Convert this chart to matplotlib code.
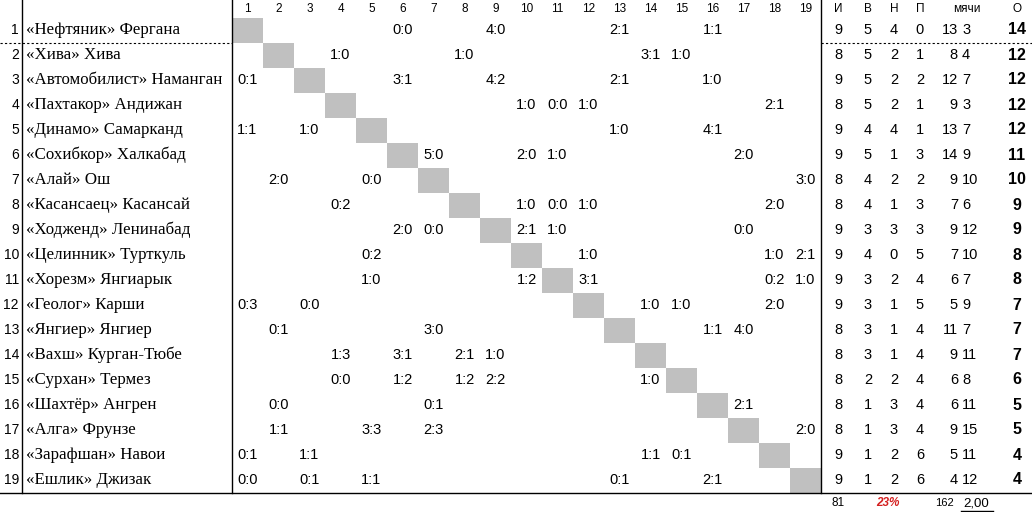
import matplotlib
matplotlib.use("Agg")
import matplotlib.pyplot as plt
from matplotlib.patches import Rectangle

teams = ["«Нефтяник» Фергана", "«Хива» Хива", "«Автомобилист» Наманган",
         "«Пахтакор» Андижан", "«Динамо» Самарканд", "«Сохибкор» Халкабад",
         "«Алай» Ош", "«Касансаец» Касансай", "«Ходженд» Ленинабад",
         "«Целинник» Турткуль", "«Хорезм» Янгиарык", "«Геолог» Карши",
         "«Янгиер» Янгиер", "«Вахш» Курган-Тюбе", "«Сурхан» Термез",
         "«Шахтёр» Ангрен", "«Алга» Фрунзе", "«Зарафшан» Навои", "«Ешлик» Джизак"]

# row -> {column: score}
results = [
    {6: "0:0", 9: "4:0", 13: "2:1", 16: "1:1"},
    {4: "1:0", 8: "1:0", 14: "3:1", 15: "1:0"},
    {1: "0:1", 6: "3:1", 9: "4:2", 13: "2:1", 16: "1:0"},
    {10: "1:0", 11: "0:0", 12: "1:0", 18: "2:1"},
    {1: "1:1", 3: "1:0", 13: "1:0", 16: "4:1"},
    {7: "5:0", 10: "2:0", 11: "1:0", 17: "2:0"},
    {2: "2:0", 5: "0:0", 19: "3:0"},
    {4: "0:2", 10: "1:0", 11: "0:0", 12: "1:0", 18: "2:0"},
    {6: "2:0", 7: "0:0", 10: "2:1", 11: "1:0", 17: "0:0"},
    {5: "0:2", 12: "1:0", 18: "1:0", 19: "2:1"},
    {5: "1:0", 10: "1:2", 12: "3:1", 18: "0:2", 19: "1:0"},
    {1: "0:3", 3: "0:0", 14: "1:0", 15: "1:0", 18: "2:0"},
    {2: "0:1", 7: "3:0", 16: "1:1", 17: "4:0"},
    {4: "1:3", 6: "3:1", 8: "2:1", 9: "1:0"},
    {4: "0:0", 6: "1:2", 8: "1:2", 9: "2:2", 14: "1:0"},
    {2: "0:0", 7: "0:1", 17: "2:1"},
    {2: "1:1", 5: "3:3", 7: "2:3", 19: "2:0"},
    {1: "0:1", 3: "1:1", 14: "1:1", 15: "0:1"},
    {1: "0:0", 3: "0:1", 5: "1:1", 13: "0:1", 16: "2:1"},
]

played = [9, 8, 9, 8, 9, 9, 8, 8, 9, 9, 9, 9, 8, 8, 8, 8, 8, 9, 9]
wins = [5, 5, 5, 5, 4, 5, 4, 4, 3, 4, 3, 3, 3, 3, 2, 1, 1, 1, 1]
draws = [4, 2, 2, 2, 4, 1, 2, 1, 3, 0, 2, 1, 1, 1, 2, 3, 3, 2, 2]
losses = [0, 1, 2, 1, 1, 3, 2, 3, 3, 5, 4, 5, 4, 4, 4, 4, 4, 6, 6]
goals_for = [13, 8, 12, 9, 13, 14, 9, 7, 9, 7, 6, 5, 11, 9, 6, 6, 9, 5, 4]
goals_against = [3, 4, 7, 3, 7, 9, 10, 6, 12, 10, 7, 9, 7, 11, 8, 11, 15, 11, 12]
points = [14, 12, 12, 12, 12, 11, 10, 9, 9, 8, 8, 7, 7, 7, 6, 5, 5, 4, 4]
header = ["И", "В", "Н", "П", "мячи", "О"]

W, H = 1032, 512
fig = plt.figure(figsize=(W / 100, H / 100), dpi=100)
ax = fig.add_axes([0, 0, 1, 1])
ax.set_xlim(0, W)
ax.set_ylim(H, 0)
ax.axis("off")

x0, cw = 232, 31.0
y0, rh = 17.5, 25.0
n = len(teams)
serif = "Liberation Serif"
sans = "Liberation Sans"

def yc(i):
    return y0 + rh * (i + 0.5)

# column numbers
for j in range(n):
    ax.text(x0 + cw * (j + 0.5), 9, str(j + 1), ha="center", va="center",
            fontsize=8.5, family=sans)
for xh, t in zip([838, 868, 894, 920, 967, 1017], header):
    ax.text(xh, 9, t, ha="center", va="center", fontsize=8.5, family=sans)

for i in range(n):
    y = yc(i)
    ax.add_patch(Rectangle((x0 + cw * i, y0 + rh * i), cw, rh, color="#c0c0c0", lw=0))
    ax.text(19, y, str(i + 1), ha="right", va="center", fontsize=10, family=sans)
    ax.text(26, y, teams[i], ha="left", va="center", fontsize=12.2, family=serif)
    for col, s in results[i].items():
        ax.text(x0 + cw * (col - 0.5), y, s, ha="center", va="center",
                fontsize=10.5, family=sans)
    kw = dict(ha="center", va="center", fontsize=10.5, family=sans)
    ax.text(838, y, str(played[i]), **kw)
    ax.text(868, y, str(wins[i]), **kw)
    ax.text(894, y, str(draws[i]), **kw)
    ax.text(920, y, str(losses[i]), **kw)
    ax.text(958, y, str(goals_for[i]), ha="right", va="center", fontsize=10.5, family=sans)
    ax.text(962, y, str(goals_against[i]), ha="left", va="center", fontsize=10.5, family=sans)
    ax.text(1017, y, str(points[i]), ha="center", va="center", fontsize=11.5,
            family=sans, weight="bold")

bottom = y0 + rh * n
ax.plot([0, W], [bottom, bottom], color="black", lw=1)
for xv in [22, x0, x0 + cw * n]:
    ax.plot([xv, xv], [0, bottom], color="black", lw=1)
ax.plot([0, x0], [y0 + rh, y0 + rh], color="black", lw=0.8, ls=(0, (2, 2)))
ax.plot([x0 + cw * n, W], [y0 + rh, y0 + rh], color="black", lw=0.8, ls=(0, (2, 2)))

# footer totals
fy = 503
ax.text(838, fy, "81", ha="center", va="center", fontsize=8.5, family=sans)
ax.text(888, fy, "23%", ha="center", va="center", fontsize=8.5, family=sans,
        color="#d42020", weight="bold", style="italic")
ax.text(944, fy, "162", ha="center", va="center", fontsize=8, family=sans)
ax.text(976, fy, "2,00", ha="center", va="center", fontsize=9.5, family=sans)
ax.plot([961, 993], [511, 511], color="black", lw=1)

fig.savefig("out.png", dpi=100)
